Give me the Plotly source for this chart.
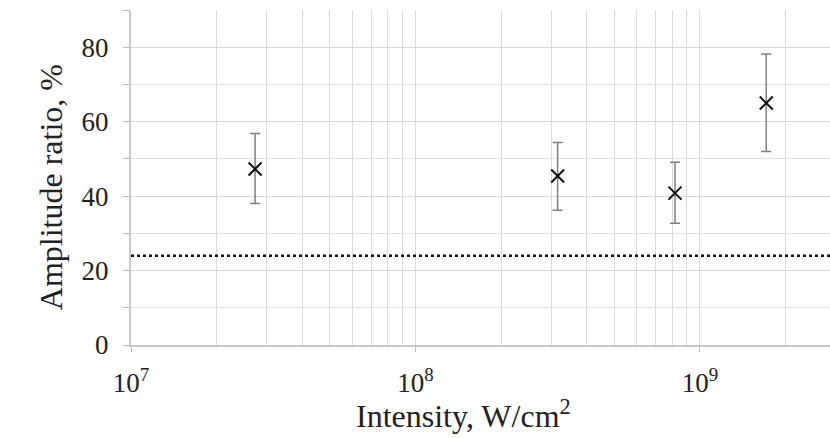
import plotly.graph_objects as go

# Data
intensity = [2.73e7, 3.16e8, 8.17e8, 1.71e9]          # W/cm^2
amplitude_ratio = [47.3, 45.4, 40.8, 65.0]              # %
err_plus = [9.5, 9.0, 8.3, 13.2]
err_minus = [9.3, 9.2, 8.1, 13.0]
threshold = 24.0                                         # dotted reference line, %

x_major_vals = [1e7, 1e8, 1e9]
x_major_text = ["10<sup>7</sup>", "10<sup>8</sup>", "10<sup>9</sup>"]
x_minor_vals = [m * 10**e for e in (7, 8, 9) for m in range(2, 10)]
y_tick_vals = [0, 20, 40, 60, 80]
x_title = "Intensity, W/cm<sup>2</sup>"
y_title = "Amplitude ratio, %"

FONT = "Liberation Serif, Times New Roman, serif"

fig = go.Figure()
fig.add_trace(go.Scatter(
    x=intensity, y=amplitude_ratio, mode="markers",
    marker=dict(symbol="x-thin", size=13, line=dict(width=2, color="#111")),
    error_y=dict(type="data", symmetric=False, array=err_plus, arrayminus=err_minus,
                 color="#808080", thickness=1.5, width=5),
    showlegend=False,
))

fig.add_shape(type="line", xref="paper", x0=0, x1=1, yref="y", y0=threshold, y1=threshold,
              line=dict(color="#111", width=2.5, dash="dot"))

# Axis titles placed as in the reference
fig.add_annotation(text=x_title, xref="paper", yref="paper", x=0.476, y=-0.205,
                   xanchor="center", yanchor="middle", showarrow=False,
                   font=dict(size=32, family=FONT, color="#222"))
fig.add_annotation(text=y_title, xref="paper", yref="paper", x=-0.115, y=0.47,
                   xanchor="center", yanchor="middle", showarrow=False, textangle=-90,
                   font=dict(size=32, family=FONT, color="#222"))

fig.update_layout(
    width=830, height=438,
    margin=dict(l=131, r=0, t=10, b=93),
    plot_bgcolor="white", paper_bgcolor="white",
    font=dict(family=FONT, size=27, color="#222"),
)
fig.update_xaxes(
    type="log", range=[7, 9.457],
    tickvals=x_major_vals, ticktext=x_major_text,
    ticks="outside", ticklen=5, tickcolor="#bbb",
    ticklabelstandoff=8,
    showgrid=True, gridcolor="#d9d9d9", gridwidth=1,
    minor=dict(tickvals=x_minor_vals, showgrid=True, gridcolor="#d9d9d9", gridwidth=1, ticks=""),
    showline=True, linecolor="#c8c8c8", linewidth=2,
    zeroline=False,
)
fig.update_yaxes(
    range=[0, 90], tickvals=y_tick_vals,
    ticks="outside", ticklen=6, tickcolor="#bbb",
    ticklabelstandoff=9,
    showgrid=True, gridcolor="#d9d9d9", gridwidth=1,
    minor=dict(dtick=10, tick0=0, showgrid=True, gridcolor="#e3e3e3", gridwidth=1, ticks="outside", ticklen=6, tickcolor="#bbb"),
    showline=True, linecolor="#c8c8c8", linewidth=2,
    zeroline=False,
)

fig.write_html("out.html")
